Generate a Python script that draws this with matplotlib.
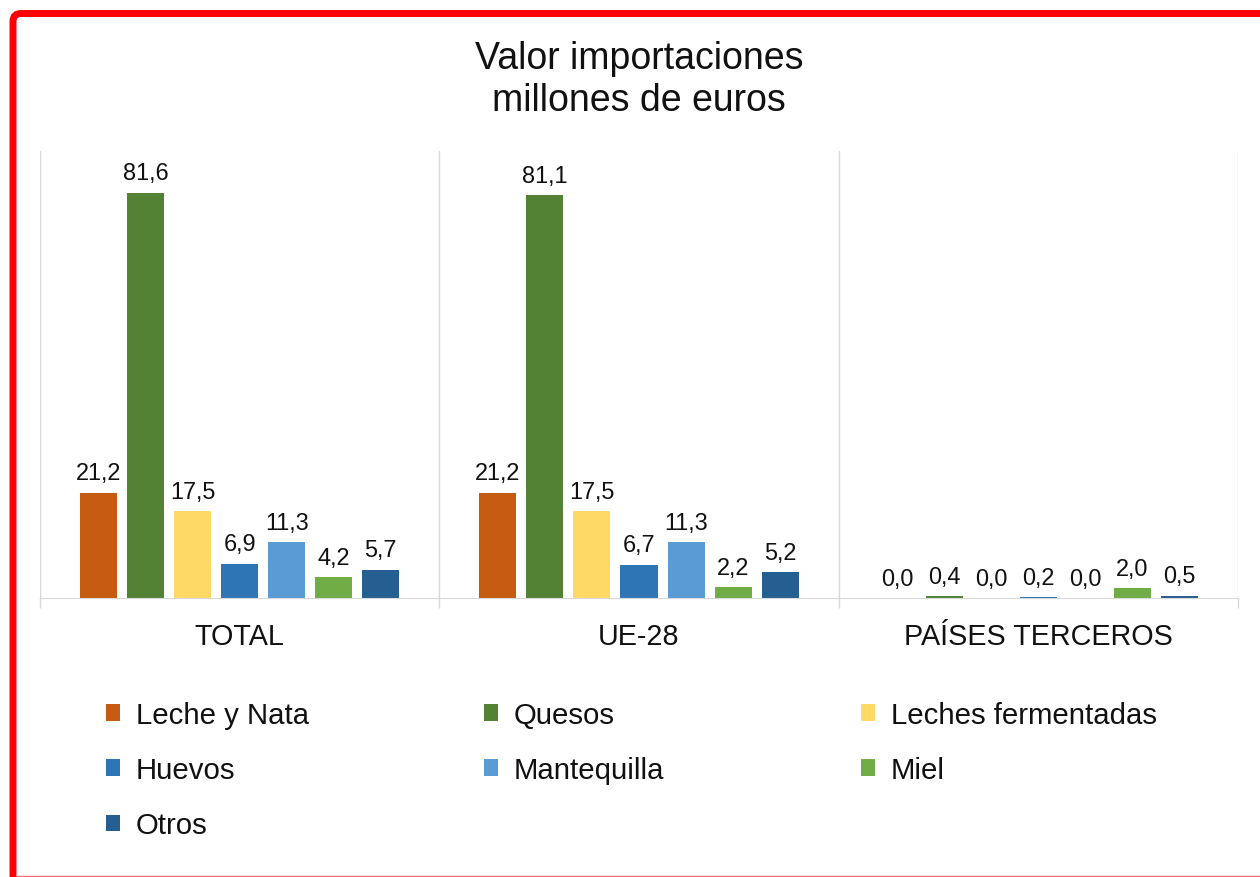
import matplotlib

matplotlib.use("Agg")
import matplotlib.pyplot as plt
import numpy as np
from matplotlib.lines import Line2D
from matplotlib.patches import FancyBboxPatch, Patch
from matplotlib.transforms import IdentityTransform

plt.rcParams["font.family"] = ["Liberation Sans", "DejaVu Sans"]

groups = ["TOTAL", "UE-28", "PAÍSES TERCEROS"]
products = ["Leche y Nata", "Quesos", "Leches fermentadas", "Huevos",
            "Mantequilla", "Miel", "Otros"]
colors = ["#C55A11", "#548235", "#FFD966", "#2E75B6", "#5B9BD5", "#70AD47", "#255E91"]

leche_nata = [21.2, 21.2, 0.0]
quesos = [81.6, 81.1, 0.4]
leches_ferm = [17.5, 17.5, 0.0]
huevos = [6.9, 6.7, 0.2]
mantequilla = [11.3, 11.3, 0.0]
miel = [4.2, 2.2, 2.0]
otros = [5.7, 5.2, 0.5]
series = [leche_nata, quesos, leches_ferm, huevos, mantequilla, miel, otros]

W, H, DPI = 1260, 878, 100
fig = plt.figure(figsize=(W / DPI, H / DPI), dpi=DPI)
ax = fig.add_axes([40 / W, 1 - 599 / H, (1238 - 40) / W, (599 - 152) / H])

x = np.arange(len(groups))
step, width = 0.1178, 0.0927
for i, (vals, name, c) in enumerate(zip(series, products, colors)):
    pos = x + (i - 3) * step
    bars = ax.bar(pos, vals, width, color=c, linewidth=0, label=name)
    for b, v in zip(bars, vals):
        ax.annotate(f"{v:.1f}".replace(".", ","), (b.get_x() + b.get_width() / 2, v),
                    xytext=(0, 6), textcoords="offset points", ha="center", va="bottom",
                    fontsize=16.9, color="#111111")

ax.set_xlim(-0.5, 2.5)
ax.set_ylim(0, 90)
ax.set_yticks([])
ax.set_xticks(x, groups, fontsize=20.7, color="#111111")
ax.set_xticks([-0.5, 0.5, 1.5, 2.5], minor=True)
ax.tick_params(axis="x", which="major", length=0, pad=17)
ax.tick_params(axis="x", which="minor", length=7, color="#D9D9D9", width=1)
ax.grid(which="minor", axis="x", color="#D9D9D9", lw=1)
for s in ["top", "left", "right"]:
    ax.spines[s].set_visible(False)
ax.spines["bottom"].set_color("#D9D9D9")

fig.text(639 / W, 1 - 41 / H, "Valor importaciones\nmillones de euros", ha="center", va="top",
         fontsize=27, linespacing=1.2, color="#111111")

# legend: row-major, three columns placed separately
handles = [Patch(facecolor=c, edgecolor="none") for c in colors]
col_x = [106, 484, 861]
for ci, cx in enumerate(col_x):
    idx = list(range(ci, len(products), 3))
    fig.legend([handles[k] for k in idx], [products[k] for k in idx],
               loc="upper left", bbox_to_anchor=(cx / W, 1 - 702 / H), frameon=False,
               fontsize=21.2, handlelength=0.48, handleheight=0.48, handletextpad=0.54,
               labelspacing=0.92, borderaxespad=0, borderpad=0, labelcolor="#111111")

# red frame
fig.patches.append(FancyBboxPatch((13, -30), 1400, H - 14.5 + 30,
                                  boxstyle="round,pad=0,rounding_size=8",
                                  transform=IdentityTransform(), fill=False,
                                  edgecolor="#FF0000", lw=5.0, figure=fig))
fig.lines.append(Line2D([16, W], [0.6, 0.6], transform=IdentityTransform(),
                        color="#F07070", lw=1, figure=fig))

fig.savefig("out.png", dpi=DPI)
